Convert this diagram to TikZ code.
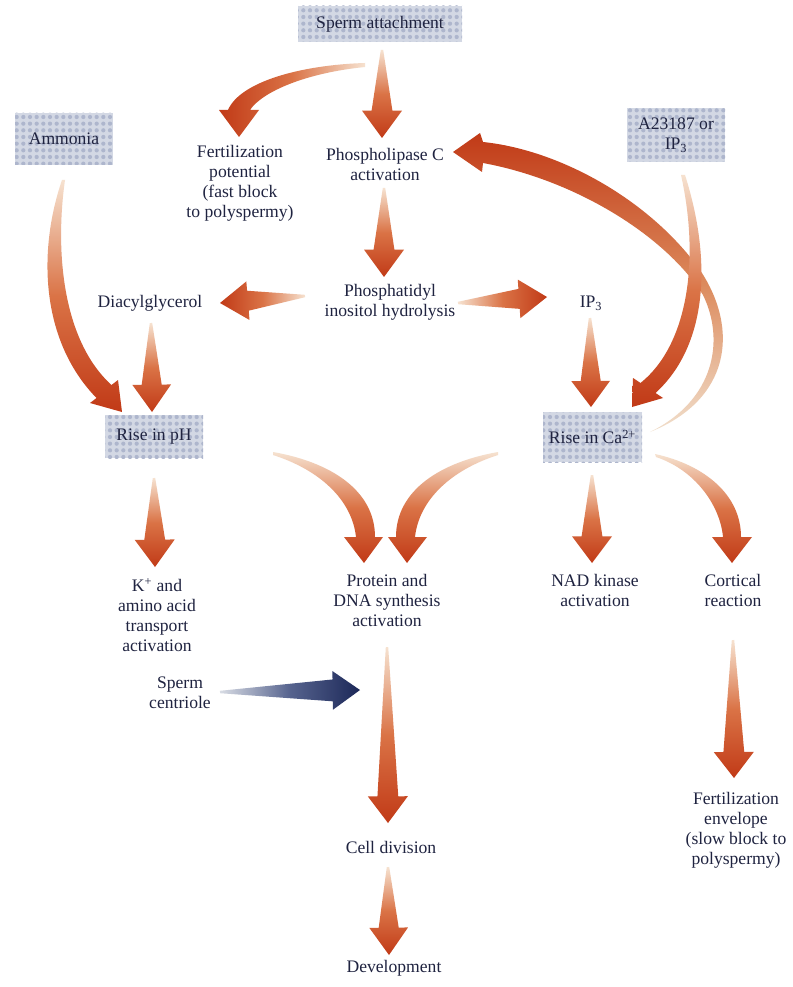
\documentclass[tikz,border=0pt]{standalone}
\usepackage{fontspec}
\setmainfont{Liberation Serif}
\usetikzlibrary{calc,patterns}
\definecolor{txt}{HTML}{1F2340}
\definecolor{ardark}{HTML}{C13A17}
\definecolor{armid}{HTML}{DA7346}
\definecolor{arlight}{HTML}{F6E2D0}
\definecolor{arcmid}{HTML}{DC8A5C}
\definecolor{arclight}{HTML}{F1DFCC}
\definecolor{bldark}{HTML}{1C2858}
\definecolor{blmid}{HTML}{56638E}
\definecolor{bllight}{HTML}{D8DCE4}
\definecolor{boxbg}{HTML}{D3D8E4}
\definecolor{boxdot}{HTML}{AEB6CD}
\pgfdeclarepatternformonly{halftone}{\pgfpoint{-0.1pt}{-0.1pt}}{\pgfpoint{5.1pt}{5.1pt}}{\pgfpoint{5pt}{5pt}}{\pgfpathcircle{\pgfpoint{2.5pt}{2.5pt}}{1.6pt}\pgfusepath{fill}}
\newcommand\lblfont{\fontsize{13.2}{15}\selectfont}
% #1 style, #2 tail, #3 tip, #4 head length, #5 head half width, #6 shaft half width
\newcommand\blockarrow[6]{%
  \coordinate (baP) at ($(#3)!#4!(#2)$);
  \path[#1] ($(#2)!0.9pt!90:(#3)$) -- ($(baP)!#6!90:(#3)$) -- ($(baP)!#5!90:(#3)$) -- (#3)
    -- ($(baP)!#5!-90:(#3)$) -- ($(baP)!#6!-90:(#3)$) -- ($(#2)!0.9pt!-90:(#3)$) -- cycle;
}
\tikzset{
  box/.style={rectangle, inner sep=0pt, preaction={fill=boxbg}, pattern=halftone, pattern color=boxdot, text=txt, align=center, font=\lblfont},
  lbl/.style={inner sep=0pt, text=txt, align=center, font=\lblfont},
  adown/.style={top color=arlight, bottom color=ardark, middle color=armid},
  aleft/.style={left color=ardark, right color=arlight, middle color=armid},
  aright/.style={left color=arlight, right color=ardark, middle color=armid},
  bigarc/.style={top color=ardark, bottom color=arclight, middle color=arcmid},
  bright/.style={left color=bllight, right color=bldark, middle color=blmid},
}
\begin{document}
\begin{tikzpicture}[x=0.75pt, y=-0.75pt]
\fill[white] (0,0) rectangle (792,987);
\useasboundingbox (0,0) rectangle (792,987);

% boxes
\node[box, minimum width=123pt, minimum height=27pt] (sa) at (380,24) {Sperm attachment};
\node[box, minimum width=73.5pt, minimum height=39pt] (amm) at (64,139) {Ammonia};
\node[box, minimum width=73.5pt, minimum height=40.5pt] (a23) at (676,135) {A23187 or\\IP\textsubscript{3}};
\node[box, minimum width=73.5pt, minimum height=32.25pt] (ph) at (154,436.5) {Rise in pH};
\node[box, minimum width=74.25pt, minimum height=37.5pt] (ca) at (592.5,437) {Rise in Ca\textsuperscript{2+}};

% labels
\node[lbl] (fp) at (240,183) {Fertilization\\potential\\(fast block\\to polyspermy)};
\node[lbl] (plc) at (385,164) {Phospholipase C\\activation};
\node[lbl] (pih) at (390,302) {Phosphatidyl\\inositol hydrolysis};
\node[lbl] (dag) at (150,303) {Diacylglycerol};
\node[lbl] (ip3) at (591,303) {IP\textsubscript{3}};
\node[lbl] (kt) at (157,615) {K\textsuperscript{+} and\\amino acid\\transport\\activation};
\node[lbl] (pds) at (387,600) {Protein and\\DNA synthesis\\activation};
\node[lbl] (sc) at (180,693) {Sperm\\centriole};
\node[lbl] (nad) at (595,590) {NAD kinase\\activation};
\node[lbl] (cr) at (733,590) {Cortical\\reaction};
\node[lbl] (cd) at (391,847) {Cell division};
\node[lbl] (dev) at (394,968) {Development};
\node[lbl] (fe) at (736,830) {Fertilization\\envelope\\(slow block to\\polyspermy)};

% arrow end points
\coordinate (t1) at ($(sa)+(2,26)$);   \coordinate (h1) at ($(plc)+(-3,-26)$);
\coordinate (t2) at ($(plc)+(-1,24)$); \coordinate (h2) at ($(pih)+(-6,-25)$);
\coordinate (t3) at ($(dag)+(1,20)$);  \coordinate (h3) at ($(ph)+(-2,-24.5)$);
\coordinate (t4) at ($(ip3)+(-1,15)$); \coordinate (h4) at ($(ca)+(-1.5,-30)$);
\coordinate (t5) at ($(ph)+(0,41.5)$); \coordinate (h5) at ($(kt)+(-2,-48)$);
\coordinate (t6) at ($(ca)+(-0.5,38)$);\coordinate (h6) at ($(nad)+(-3,-27)$);
\coordinate (t7) at ($(pds)+(0,47)$);  \coordinate (h7) at ($(cd)+(-3,-24)$);
\coordinate (t8) at ($(cd)+(-3,20)$);  \coordinate (h8) at ($(dev)+(-5,-13)$);
\coordinate (t9) at ($(cr)+(0,50)$);   \coordinate (h9) at ($(fe)+(-2,-52)$);
\coordinate (t10) at ($(pih)+(-85,-6)$); \coordinate (h10) at ($(dag)+(70,0)$);
\coordinate (t11) at ($(pih)+(68,1)$);   \coordinate (h11) at ($(ip3)+(-44,-6)$);
\coordinate (t12) at ($(sc)+(40,-1)$);   \coordinate (h12) at ($(sc)+(180,-3)$);

% straight arrows
\blockarrow{adown}{t1}{h1}{20.5pt}{15pt}{7.8pt}
\blockarrow{adown}{t2}{h2}{20.5pt}{15pt}{7.8pt}
\blockarrow{adown}{t3}{h3}{20.5pt}{14.5pt}{7.5pt}
\blockarrow{adown}{t4}{h4}{19.5pt}{14.5pt}{7.5pt}
\blockarrow{adown}{t5}{h5}{20.5pt}{15pt}{7.8pt}
\blockarrow{adown}{t6}{h6}{20pt}{15pt}{7.8pt}
\blockarrow{adown}{t7}{h7}{20pt}{15pt}{7.8pt}
\blockarrow{adown}{t8}{h8}{20.5pt}{14.5pt}{7.5pt}
\blockarrow{adown}{t9}{h9}{19.5pt}{15pt}{7.8pt}
\blockarrow{aleft}{t10}{h10}{21pt}{14.5pt}{7.5pt}
\blockarrow{aright}{t11}{h11}{21pt}{14.5pt}{7.5pt}
\blockarrow{bright}{t12}{h12}{20.5pt}{14.5pt}{8.2pt}

% curved arrows
% Sperm attachment -> Fertilization potential
\path[aleft] (365,63) .. controls (300,65) and (240,82) .. (228,110) -- (219,110) -- (239,137) -- (259,110) -- (250,110) .. controls (262,92) and (305,73) .. (365,67) -- cycle;
% Ammonia -> Rise in pH
\path[adown] (62,180) .. controls (38,250) and (40,340) .. (96.5,398) -- (90,403) -- (122,412) -- (118,380) -- (111.5,385) .. controls (62,340) and (55,250) .. (65,180) -- cycle;
% Rise in Ca -> Phospholipase C
\path[bigarc] (483,142) .. controls (560,150) and (650,200) .. (700,270) .. controls (740,330) and (730,400) .. (650,432) .. controls (715,400) and (725,340) .. (703,295) .. controls (665,235) and (575,180) .. (483,163) -- (482,172) -- (453,152) -- (480,133) -- cycle;
% A23187 -> Rise in Ca
\path[adown] (685,175) .. controls (712,260) and (708,345) .. (655.5,393) -- (663,398) -- (632,407) -- (633,378) -- (640.5,383) .. controls (688,345) and (700,260) .. (681,175) -- cycle;
% Rise in pH -> Protein
\path[adown] (273,452) .. controls (330,462) and (375,490) .. (375,537) -- (383,537) -- (364,563) -- (344,537) -- (356,537) .. controls (352,500) and (320,470) .. (273,455) -- cycle;
% Rise in Ca -> Protein
\path[adown] (498,452) .. controls (441,462) and (396,490) .. (396,537) -- (388,537) -- (407,563) -- (427,537) -- (415,537) .. controls (419,500) and (451,470) .. (498,455) -- cycle;
% Rise in Ca -> Cortical reaction
\path[adown] (655,454) .. controls (705,465) and (741,495) .. (741,537) -- (752,537) -- (732,563) -- (712,537) -- (723,537) .. controls (720,505) and (695,470) .. (656,457) -- cycle;
\end{tikzpicture}
\end{document}
